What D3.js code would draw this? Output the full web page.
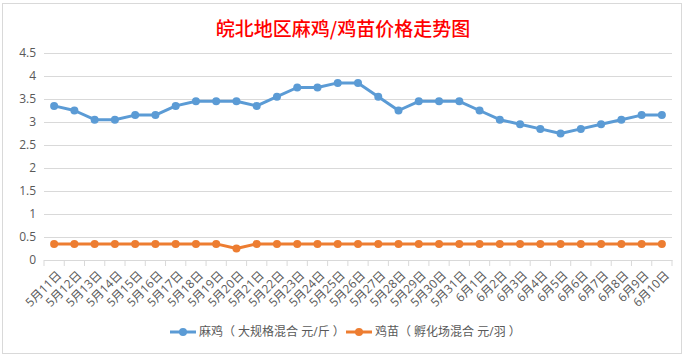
<!DOCTYPE html>
<html><head><meta charset="utf-8">
<script src="https://cdn.jsdelivr.net/npm/d3@7"></script>
<style>body{margin:0;background:#fff}svg{display:block}</style>
</head><body>
<svg id="c" width="689" height="357"></svg>
<script>
const title = "皖北地区麻鸡/鸡苗价格走势图";
const categories = ["5月11日","5月12日","5月13日","5月14日","5月15日","5月16日","5月17日","5月18日","5月19日","5月20日","5月21日","5月22日","5月23日","5月24日","5月25日","5月26日","5月27日","5月28日","5月29日","5月30日","5月31日","6月1日","6月2日","6月3日","6月4日","6月5日","6月6日","6月7日","6月8日","6月9日","6月10日"];
const seriesNames = ["麻鸡（ 大规格混合 元/斤 ）","鸡苗（ 孵化场混合 元/羽 ）"];
const maji = [3.35,3.25,3.05,3.05,3.15,3.15,3.35,3.45,3.45,3.45,3.35,3.55,3.75,3.75,3.85,3.85,3.55,3.25,3.45,3.45,3.45,3.25,3.05,2.95,2.85,2.75,2.85,2.95,3.05,3.15,3.15];
const jimiao = [0.35,0.35,0.35,0.35,0.35,0.35,0.35,0.35,0.35,0.25,0.35,0.35,0.35,0.35,0.35,0.35,0.35,0.35,0.35,0.35,0.35,0.35,0.35,0.35,0.35,0.35,0.35,0.35,0.35,0.35,0.35];
const yTicks = [0,0.5,1,1.5,2,2.5,3,3.5,4,4.5];
const colors = ["#5B9BD5","#ED7D31"];

const svg = d3.select("#c");
const font = "'Open Sans','Noto Sans CJK SC',sans-serif";

svg.append("rect").attr("x",2.5).attr("y",3.5).attr("width",679).attr("height",350)
  .attr("fill","#fff").attr("stroke","#d9d9d9");

const x = d3.scaleBand().domain(categories).range([44, 672]);
const y = d3.scaleLinear().domain([0, 4.5]).range([260, 53]);

svg.append("text").attr("x",343).attr("y",36).attr("text-anchor","middle")
  .attr("fill","#ff0000").style("font-family","'Noto Sans CJK SC',sans-serif").style("font-size","19px")
  .style("font-weight","500").text(title);

const yAxis = d3.axisLeft(y).tickValues(yTicks).tickSize(-(672-44)).tickPadding(8).tickFormat(d3.format("~g"));
const gy = svg.append("g").attr("transform","translate(44,0)").call(yAxis);
gy.select(".domain").remove();
gy.selectAll(".tick line").attr("stroke","#d9d9d9");
gy.selectAll(".tick text").attr("fill","#595959").style("font-family",font).style("font-size","12px").attr("x",-8);

const xAxis = d3.axisBottom(x).tickSize(0).tickFormat("");
const gx = svg.append("g").attr("transform","translate(0,260)").call(xAxis);
gx.select(".domain").attr("stroke","#d9d9d9");
gx.selectAll(".tick").remove();
const edges = categories.map(c => x(c)).concat([x(categories[categories.length-1]) + x.bandwidth()]);
svg.append("g").selectAll("line").data(edges).join("line")
  .attr("x1",d=>d).attr("x2",d=>d).attr("y1",260).attr("y2",266).attr("stroke","#d9d9d9");
svg.append("g").selectAll("text").data(categories).join("text")
  .attr("transform", d => `translate(${x(d)+x.bandwidth()/2+8},${276}) rotate(-45)`)
  .attr("text-anchor","end").attr("fill","#595959")
  .style("font-family",font).style("font-size","12px").text(d=>d);

const series = [maji, jimiao];
const line = d3.line().x((d,i)=>x(categories[i])+x.bandwidth()/2).y(d=>y(d));
series.forEach((s,k) => {
  svg.append("path").datum(s).attr("d",line).attr("fill","none")
    .attr("stroke",colors[k]).attr("stroke-width",3).attr("stroke-linejoin","round");
  svg.append("g").selectAll("circle").data(s).join("circle")
    .attr("cx",(d,i)=>x(categories[i])+x.bandwidth()/2).attr("cy",d=>y(d)).attr("r",4)
    .attr("fill",colors[k]);
});

const legX = [170, 346];
seriesNames.forEach((n,k) => {
  const g = svg.append("g").attr("transform",`translate(${legX[k]},332)`);
  g.append("line").attr("x1",0).attr("x2",26).attr("stroke",colors[k]).attr("stroke-width",3);
  g.append("circle").attr("cx",13).attr("r",4).attr("fill",colors[k]);
  g.append("text").attr("x",29).attr("y",4).attr("fill","#595959")
    .style("font-family",font).style("font-size","12px").text(n);
});
</script>
</body></html>
